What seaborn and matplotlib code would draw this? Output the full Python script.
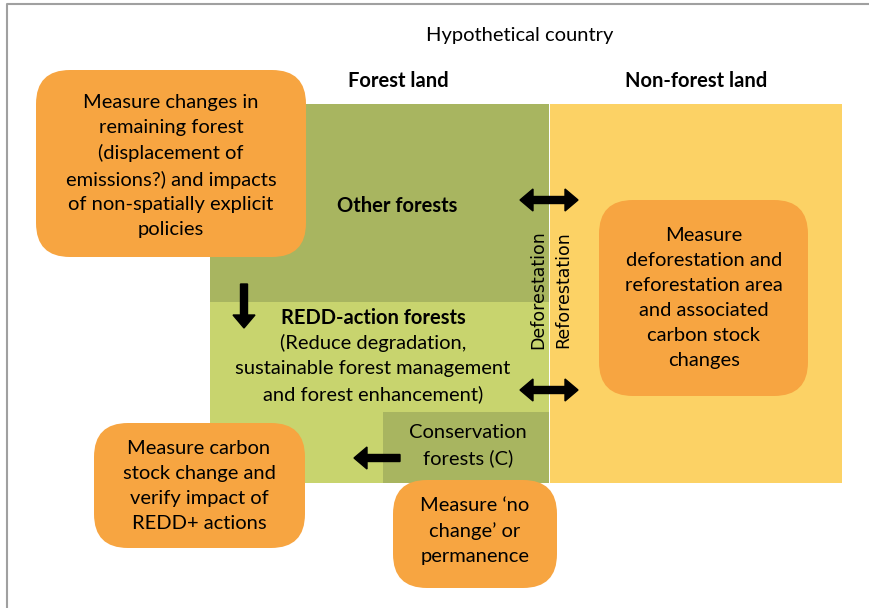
import seaborn as sns
import matplotlib.pyplot as plt
from matplotlib.patches import Rectangle, FancyBboxPatch

# ---- content of the diagram ----
title = "Hypothetical country"
column_heads = ["Forest land", "Non-forest land"]
zone_names = ["Other forests", "REDD-action forests", "Conservation\nforests (C)", "Non-forest"]
redd_detail = "(Reduce degradation,\nsustainable forest management\nand forest enhancement)"
transitions = ["Deforestation", "Reforestation"]
measure_boxes = [
    "Measure changes in\nremaining forest\n(displacement of\nemissions?) and impacts\nof non-spatially explicit\npolicies",
    "Measure\ndeforestation and\nreforestation area\nand associated\ncarbon stock\nchanges",
    "Measure carbon\nstock change and\nverify impact of\nREDD+ actions",
    "Measure \u2018no\nchange\u2019 or\npermanence",
]

# ---- layout (pixels, origin top-left) ----
zone_rects = [(210, 104, 339, 198), (210, 302, 339, 181), (383, 412, 166, 71), (550, 104, 292, 379)]
zone_colors = ["#A8B560", "#C8D46E", "#A8B560", "#FCD265"]
box_rects = [(36, 70, 270, 187), (599, 200, 209, 196), (94, 423, 211, 125), (393, 480, 164, 108)]
orange = "#F7A541"

sns.set_theme(style="white")
plt.rcParams['font.family'] = ['Lato', 'DejaVu Sans']
plt.rcParams['text.color'] = 'black'

fig = plt.figure(figsize=(8.7, 6.08), dpi=100)
ax = fig.add_axes([0, 0, 1, 1])
ax.set_xlim(0, 870)
ax.set_ylim(608, 0)
ax.axis("off")

# frame
ax.plot([7, 7, 870], [608, 4, 4], color="#a0a0a0", lw=1.5)

for (x, y, w, h), c in zip(zone_rects, zone_colors):
    ax.add_patch(Rectangle((x, y), w, h, facecolor=c, edgecolor="none"))

for x, y, w, h in box_rects:
    ax.add_patch(FancyBboxPatch((x, y), w, h, boxstyle="round,pad=0,rounding_size=34",
                                facecolor=orange, edgecolor="none", zorder=3))

fs = 14.5
ls = 1.56
ax.text(520, 36, title, ha="center", va="center", fontsize=fs)
ax.text(398, 81, column_heads[0], ha="center", va="center", fontsize=fs, weight="bold")
ax.text(696, 81, column_heads[1], ha="center", va="center", fontsize=fs, weight="bold")
ax.text(397, 206, zone_names[0], ha="center", va="center", fontsize=fs, weight="bold")
ax.text(373, 318, zone_names[1], ha="center", va="center", fontsize=fs, weight="bold")
ax.text(373, 369, redd_detail, ha="center", va="center", fontsize=fs, linespacing=ls)
ax.text(468, 446, zone_names[2], ha="center", va="center", fontsize=fs, linespacing=ls)

ax.text(538, 290, transitions[0], ha="center", va="center", rotation=90, fontsize=12.5,
        family="DejaVu Sans")
ax.text(563, 290, transitions[1], ha="center", va="center", rotation=90, fontsize=12.5,
        family="DejaVu Sans")

centers = [(171, 166), (704, 298), (199, 486), (475, 531)]
for (cx, cy), label in zip(centers, measure_boxes):
    ax.text(cx, cy, label, ha="center", va="center", fontsize=fs, linespacing=ls, zorder=4)

# arrows
arrow_kw = dict(width=7, head_width=22, head_length=13, length_includes_head=True,
                color="black", zorder=5)
for yy in (200, 390):
    ax.arrow(549, yy, 29, 0, **arrow_kw)
    ax.arrow(549, yy, -29, 0, **arrow_kw)
ax.arrow(244, 284, 0, 44, **arrow_kw)
ax.arrow(400, 458, -46, 0, **arrow_kw)

fig.savefig("out.png", dpi=100)
